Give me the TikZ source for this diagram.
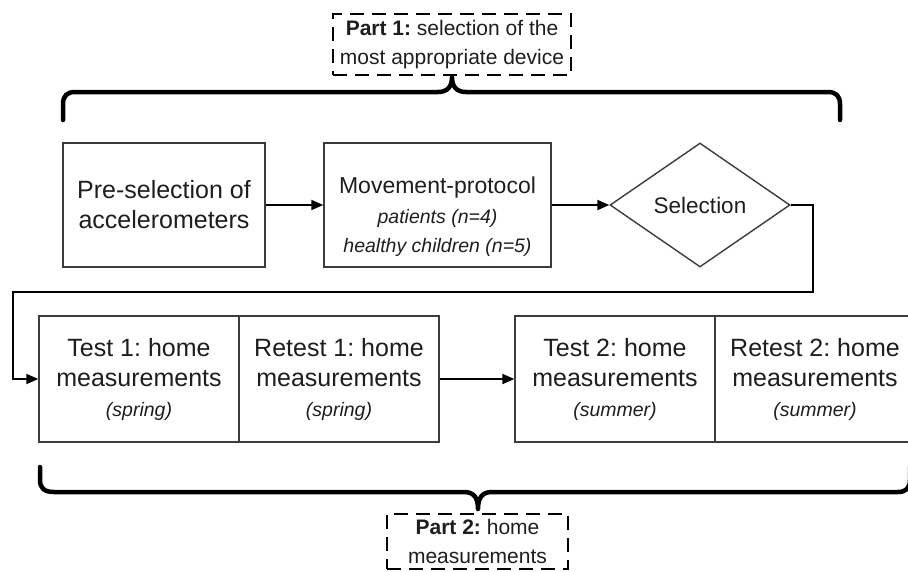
\documentclass[tikz,border=0pt]{standalone}
\usepackage{fontspec}
\setmainfont{Liberation Sans}
\usetikzlibrary{shapes.geometric,arrows.meta}
\frenchspacing
\newcommand\mainfnt{\fontsize{25}{30}\selectfont}
\newcommand\midfnt{\fontsize{23}{30}\selectfont}
\newcommand\itsmall{\fontsize{19.5}{29}\selectfont\itshape}
\newcommand\partfnt{\fontsize{21}{29}\selectfont}
\definecolor{txtc}{HTML}{1E1E1E}
\definecolor{brdc}{HTML}{3C3C3C}
\begin{document}
\begin{tikzpicture}[x=1pt,y=-1pt,
  box/.style={draw=brdc,line width=1.4pt,fill=white,minimum width=#1,minimum height=124pt,
    inner sep=0pt,align=center,font=\mainfnt,text=txtc},
  hbox/.style={draw=brdc,line width=1.4pt,fill=white,minimum width=200pt,minimum height=126pt,
    inner sep=0pt,align=center,font=\mainfnt,text=txtc},
  dec/.style={diamond,draw=brdc,line width=1.4pt,fill=white,minimum width=180pt,minimum height=124pt,
    inner sep=0pt,aspect=1.45,font=\fontsize{22.5}{30}\selectfont,text=txtc},
  conn/.style={draw=black,line width=1.9pt,-{Triangle[length=12pt,width=10pt]}},
  brace/.style={draw=black,line width=4.5pt,line cap=round,line join=round},
  partbox/.style={draw=black,line width=2.3pt,dash pattern=on 14pt off 8pt,
    inner sep=0pt,align=center,font=\partfnt,text=txtc},
  txt/.style={inner sep=0pt,align=center,font=\midfnt,text=txtc}
]
\useasboundingbox (0,0) rectangle (908,571);
\fill[white] (0,0) rectangle (908,571);

% top row
\node[box=202pt] (pre) at (164,205) {Pre-selection of\\accelerometers};
\node[box=227pt] (mp) at (437.5,205) {};
\node[txt] (mptext) at (437.5,217) {Movement-protocol\\{\itsmall patients (n=4)}\\[-1pt]{\itsmall healthy children (n=5)}};
\node[dec] (sel) at (700,205) {Selection};

\draw[conn] (pre.east) -- (mp.west);
\draw[conn] (mp.east) -- (sel.west);

% bottom row
\node[hbox] (t1) at (139,379) {Test 1: home\\measurements\\{\itsmall (spring)}};
\node[hbox] (r1) at (339,379) {Retest 1: home\\measurements\\{\itsmall (spring)}};
\node[hbox] (t2) at (615,379) {Test 2: home\\measurements\\{\itsmall (summer)}};
\node[hbox] (r2) at (815,379) {Retest 2: home\\measurements\\{\itsmall (summer)}};

\coordinate (cr) at (813,292);
\coordinate (cl) at (13,292);
\draw[conn] (sel.east) -| (cr) -- (cl) |- (t1.west);
\draw[conn] (r1.east) -- (t2.west);

% part labels
\node[partbox,minimum width=238pt,minimum height=61pt] (p1) at (452,44.5)
  {\textbf{Part 1:} selection of the\\most appropriate device};
\node[partbox,minimum width=181pt,minimum height=55pt] (p2) at (477.5,541.5)
  {\textbf{Part 2:} home\\measurements};

% braces
\draw[brace] (63,120) -- (63,104) .. controls (63,96) and (67,92) .. (75,92)
  -- (438,92) .. controls (448,92) and (452,86) .. (452,77)
  .. controls (452,86) and (456,92) .. (466,92)
  -- (828,92) .. controls (836,92) and (840,96) .. (840,104) -- (840,120);
\draw[brace] (40,467) -- (40,480) .. controls (40,488) and (44,492) .. (54,492)
  -- (464,492) .. controls (474,492) and (478,498) .. (478,509)
  .. controls (478,498) and (482,492) .. (492,492)
  -- (898,492) .. controls (906,492) and (910,488) .. (910,480) -- (910,467);
\end{tikzpicture}
\end{document}
